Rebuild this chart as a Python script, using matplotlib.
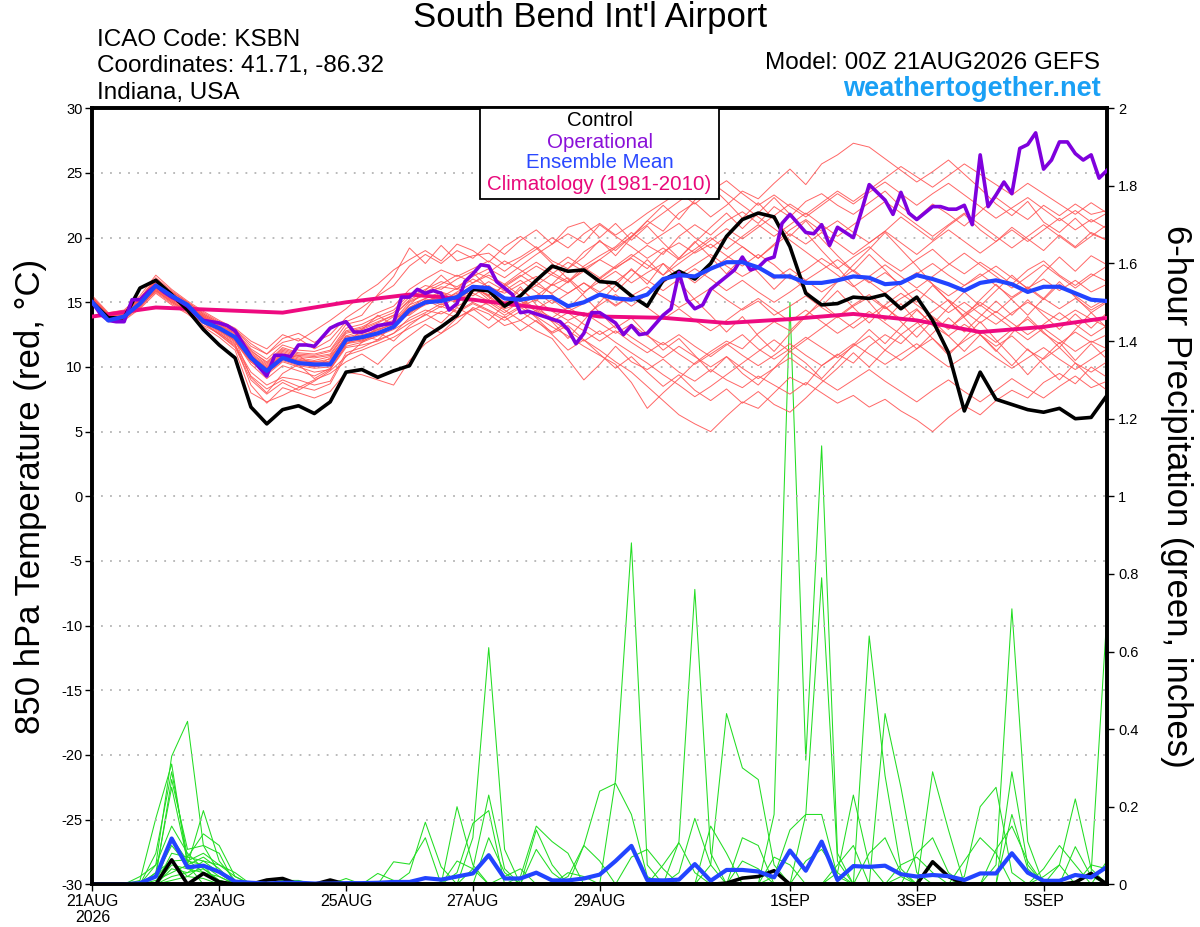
import numpy as np
import matplotlib
matplotlib.use("Agg")
import matplotlib.pyplot as plt
from matplotlib.patches import Rectangle

plt.rcParams['font.family'] = ['Liberation Sans', 'DejaVu Sans']
plt.rcParams['axes.unicode_minus'] = False

# ---------------- DATA ----------------
hours6 = np.arange(0, 385, 6)      # ensemble / control steps
hours3 = np.arange(0, 385, 3)      # operational steps
clim_hours = np.arange(0, 385, 24)

tick_hours = [0, 48, 96, 144, 192, 264, 312, 360]
tick_labels = ["21AUG\n2026", "23AUG", "25AUG", "27AUG", "29AUG", "1SEP", "3SEP", "5SEP"]

control_t = [15.0, 13.8, 13.8, 16.1, 16.7, 15.6, 14.4, 12.9,
             11.7, 10.7, 6.9, 5.6, 6.7, 7.0, 6.4, 7.3,
             9.6, 9.8, 9.2, 9.7, 10.1, 12.3, 13.1, 14.0,
             16.0, 15.9, 14.7, 15.5, 16.7, 17.8, 17.4, 17.5,
             16.6, 16.5, 15.5, 14.7, 16.7, 17.4, 16.8, 18.0,
             20.1, 21.4, 21.9, 21.6, 19.3, 15.7, 14.8, 14.9,
             15.4, 15.3, 15.6, 14.5, 15.4, 13.6, 11.1, 6.6,
             9.6, 7.5, 7.1, 6.7, 6.5, 6.8, 6.0, 6.1,
             7.8]

mean_t = [15.0, 13.6, 13.9, 14.9, 16.3, 15.5, 14.8, 13.5,
          13.0, 12.3, 10.7, 9.7, 10.7, 10.3, 10.2, 10.2,
          12.1, 12.3, 12.6, 13.1, 14.4, 15.0, 15.1, 15.4,
          16.2, 16.1, 15.3, 15.2, 15.4, 15.4, 14.7, 15.0,
          15.6, 15.3, 15.2, 15.6, 16.8, 17.1, 17.0, 17.6,
          18.1, 18.1, 17.7, 17.0, 17.0, 16.5, 16.5, 16.7,
          17.0, 16.9, 16.4, 16.5, 17.1, 16.8, 16.4, 15.9,
          16.5, 16.7, 16.4, 15.8, 16.2, 16.2, 15.7, 15.2,
          15.1]

oper_t = [15.0, 14.1, 13.6, 13.5, 13.5, 15.2, 15.2, 15.8,
          16.3, 15.8, 15.4, 15.1, 14.7, 14.1, 13.6, 13.5,
          13.4, 13.2, 12.8, 11.8, 10.8, 10.0, 9.3, 10.9,
          10.9, 10.8, 11.7, 11.7, 11.6, 12.3, 13.0, 13.3,
          13.5, 12.7, 12.7, 12.9, 13.2, 13.3, 13.4, 15.4,
          15.4, 16.0, 15.7, 15.9, 15.7, 14.4, 14.9, 16.6,
          17.2, 17.9, 17.8, 16.6, 16.1, 15.6, 14.2, 14.3,
          14.1, 13.9, 13.7, 13.5, 12.9, 11.8, 12.6, 14.2,
          14.2, 13.8, 13.4, 12.5, 13.2, 12.5, 12.6, 13.3,
          14.0, 14.5, 17.3, 15.2, 14.5, 14.8, 16.0, 16.5,
          17.0, 17.5, 18.5, 17.5, 17.7, 18.3, 18.5, 21.1,
          21.8, 21.1, 20.4, 20.3, 21.0, 19.4, 20.8, 20.4,
          20.0, 22.0, 24.1, 23.5, 22.9, 21.8, 23.5, 21.9,
          21.4, 21.9, 22.4, 22.4, 22.2, 22.2, 22.5, 21.0,
          26.4, 22.4, 23.3, 24.3, 23.4, 26.9, 27.2, 28.1,
          25.3, 26.0, 27.4, 27.4, 26.5, 26.0, 26.4, 24.6,
          25.2]

clim_t = [13.9, 14.6, 14.4, 14.2, 15.0, 15.6, 15.2, 14.6, 13.9,
          13.8, 13.4, 13.7, 14.1, 13.6, 12.7, 13.1, 13.8]

ens_t = [
    [15.4, 14.0, 14.3, 15.3, 16.9, 15.9, 15.0, 14.2, 13.5, 12.9, 11.6, 11.0, 11.9, 12.2, 11.4, 12.1,
     13.5, 14.0, 15.6, 17.0, 19.2, 18.0, 19.4, 18.2, 18.6, 18.8, 17.9, 18.5, 19.3, 18.2, 17.6, 18.9,
     19.7, 19.0, 20.1, 21.3, 20.5, 21.9, 22.7, 21.6, 22.5, 23.6, 23.0, 24.2, 25.3, 24.1, 25.7, 26.4,
     27.3, 27.0, 26.1, 25.2, 24.3, 25.1, 26.0, 24.9, 23.8, 22.6, 21.7, 22.8, 21.2, 20.4, 21.5, 20.3, 19.8],
    [15.0, 13.6, 13.7, 14.6, 15.9, 15.0, 14.3, 13.2, 12.6, 11.8, 8.6, 7.2, 8.4, 8.0, 7.6, 8.1,
     9.6, 9.4, 9.0, 8.6, 10.5, 11.8, 12.6, 13.4, 14.6, 14.1, 13.2, 13.6, 12.8, 12.2, 10.6, 9.0,
     10.2, 11.6, 10.4, 9.8, 10.6, 9.6, 8.9, 9.8, 9.0, 8.4, 9.3, 8.6, 7.9, 8.8, 8.0, 7.2,
     7.8, 6.9, 7.5, 6.6, 5.9, 5.0, 6.1, 7.0, 6.3, 7.4, 8.2, 7.6, 8.8, 9.5, 8.7, 10.0, 9.2],
    [15.1, 13.8, 13.9, 14.8, 16.0, 15.2, 14.5, 13.6, 12.9, 12.0, 10.2, 9.1, 10.1, 9.7, 9.3, 9.9,
     11.6, 11.9, 12.4, 12.9, 13.6, 14.2, 14.9, 14.3, 15.0, 14.4, 13.8, 14.6, 13.9, 13.1, 12.4, 11.6,
     10.9, 10.2, 8.8, 6.8, 8.0, 9.1, 10.3, 11.2, 12.0, 11.4, 12.6, 13.5, 12.8, 14.0, 14.9, 13.9,
     14.8, 15.6, 14.6, 13.7, 14.5, 13.2, 12.4, 13.3, 12.5, 11.6, 12.4, 11.3, 10.6, 11.5, 10.3, 9.6, 10.4],
    [15.3, 14.1, 14.2, 15.1, 16.4, 15.6, 14.7, 13.9, 13.1, 12.2, 10.9, 9.9, 11.0, 10.6, 10.4, 10.3,
     12.0, 12.4, 12.1, 13.3, 14.1, 15.2, 14.6, 15.5, 16.3, 15.4, 14.5, 14.9, 13.8, 12.6, 13.2, 12.1,
     11.3, 10.4, 9.6, 8.5, 7.4, 6.3, 5.6, 5.0, 6.2, 7.3, 6.8, 8.0, 9.2, 8.6, 10.1, 11.0,
     10.3, 11.6, 12.5, 11.8, 13.0, 13.8, 12.9, 14.1, 15.0, 14.2, 15.3, 16.1, 15.2, 16.4, 15.5, 14.6, 15.3],
    [15.2, 13.9, 14.1, 15.2, 16.6, 15.7, 14.8, 14.0, 13.3, 12.6, 11.2, 10.4, 11.5, 11.1, 11.0, 11.3,
     13.0, 13.3, 13.9, 14.4, 15.6, 16.3, 16.0, 16.8, 17.4, 16.9, 16.2, 17.0, 17.8, 17.1, 16.5, 17.6,
     18.3, 17.6, 18.5, 19.4, 18.7, 20.1, 21.0, 20.2, 21.3, 22.0, 21.1, 22.4, 21.6, 22.8, 23.4, 22.5,
     21.8, 22.7, 23.6, 22.4, 21.5, 22.6, 21.8, 20.9, 22.0, 23.1, 22.2, 21.4, 22.5, 21.7, 22.6, 21.8, 22.1],
    [15.1, 13.7, 14.0, 14.9, 16.2, 15.3, 14.5, 13.6, 12.8, 12.1, 10.6, 9.7, 10.9, 10.4, 10.0, 10.5,
     12.2, 12.5, 12.8, 13.4, 14.6, 15.1, 15.5, 15.2, 16.1, 15.8, 15.0, 15.6, 16.3, 15.7, 16.6, 17.4,
     16.8, 17.7, 18.4, 17.6, 18.9, 19.6, 18.8, 19.5, 18.6, 17.8, 18.7, 17.9, 16.8, 17.5, 18.4, 17.6,
     18.5, 19.3, 18.2, 17.4, 18.3, 19.1, 18.0, 17.2, 18.1, 17.3, 16.4, 17.5, 18.2, 17.1, 16.3, 17.2, 16.6],
    [15.2, 13.8, 13.9, 15.0, 16.3, 15.4, 14.6, 13.7, 13.0, 12.4, 10.8, 9.9, 10.8, 10.4, 10.3, 10.1,
     11.9, 12.1, 12.6, 13.0, 14.2, 14.8, 15.2, 15.7, 16.0, 15.6, 15.9, 15.1, 14.5, 15.2, 14.3, 14.9,
     15.6, 14.8, 15.5, 16.2, 15.4, 14.6, 15.3, 16.1, 15.2, 14.4, 15.1, 14.0, 14.7, 15.5, 14.6, 13.8,
     14.7, 15.4, 14.5, 15.3, 16.0, 15.1, 14.2, 15.0, 14.1, 13.3, 14.2, 15.0, 14.3, 13.6, 14.4, 13.7, 13.1],
    [15.3, 14.0, 14.1, 15.1, 16.5, 15.6, 14.8, 13.9, 13.2, 12.5, 11.0, 10.1, 11.2, 10.8, 10.7, 10.9,
     12.6, 12.9, 13.4, 14.0, 15.1, 15.6, 15.0, 15.8, 16.5, 17.1, 16.4, 17.3, 18.1, 17.3, 16.6, 17.8,
     18.6, 19.3, 20.4, 19.5, 20.3, 21.1, 20.0, 19.2, 20.1, 19.3, 18.4, 19.5, 20.6, 21.4, 20.5, 21.3,
     20.4, 19.6, 20.5, 21.6, 20.7, 19.8, 20.9, 21.8, 20.6, 19.7, 20.8, 19.9, 19.0, 20.2, 19.3, 20.4, 19.8],
    [15.0, 13.7, 13.8, 14.7, 16.0, 15.1, 14.4, 13.5, 12.7, 11.9, 10.4, 9.4, 10.4, 10.0, 9.6, 9.8,
     11.5, 11.7, 12.0, 12.6, 13.8, 14.4, 14.1, 14.7, 15.3, 14.8, 14.0, 14.7, 15.2, 14.3, 13.6, 14.2,
     13.4, 12.6, 13.3, 12.4, 11.7, 12.5, 11.6, 10.8, 11.7, 12.5, 11.4, 10.6, 11.4, 12.3, 11.5, 10.7,
     11.6, 12.4, 11.3, 10.5, 11.4, 12.2, 11.1, 12.0, 12.8, 11.9, 12.9, 13.7, 12.6, 11.8, 12.7, 11.9, 12.5],
    [15.2, 13.9, 14.0, 15.0, 16.4, 15.5, 14.7, 13.8, 13.0, 12.3, 10.7, 9.8, 10.9, 10.5, 10.4, 10.6,
     12.4, 12.8, 13.2, 13.6, 15.0, 15.6, 16.2, 16.0, 16.8, 16.2, 15.7, 16.4, 17.0, 16.3, 16.9, 15.8,
     16.6, 17.4, 16.5, 17.3, 18.0, 17.1, 17.9, 18.7, 17.8, 17.0, 17.7, 16.8, 17.6, 16.7, 17.5, 18.3,
     17.4, 16.5, 17.3, 16.4, 17.2, 18.0, 17.1, 16.3, 17.0, 17.8, 16.9, 16.1, 16.8, 15.9, 16.7, 15.8, 16.4],
    [15.4, 14.1, 14.3, 15.3, 16.7, 15.8, 15.0, 14.1, 13.4, 12.8, 11.4, 10.6, 11.7, 11.3, 11.2, 11.6,
     13.3, 13.6, 14.2, 14.7, 16.0, 16.8, 17.5, 17.0, 17.6, 18.2, 17.4, 18.3, 19.1, 20.0, 19.2, 20.3,
     21.1, 20.2, 21.0, 21.9, 22.7, 23.5, 22.6, 23.6, 24.4, 23.4, 22.5, 23.3, 22.4, 21.6, 22.5, 23.4,
     22.6, 23.5, 24.3, 23.4, 22.5, 23.4, 24.2, 23.3, 22.4, 21.5, 22.3, 23.1, 22.2, 21.3, 22.1, 21.2, 21.9],
    [15.0, 13.6, 13.8, 14.7, 15.8, 14.9, 14.2, 13.4, 12.5, 11.6, 9.3, 8.3, 9.0, 8.5, 8.2, 8.7,
     10.9, 11.3, 11.8, 12.3, 13.0, 13.6, 14.3, 13.8, 14.4, 15.0, 14.2, 15.1, 14.3, 13.5, 14.2, 13.3,
     12.5, 13.2, 12.3, 11.5, 10.7, 11.6, 10.8, 10.0, 10.8, 9.9, 9.1, 9.9, 10.7, 9.8, 9.0, 8.2,
     9.0, 9.8, 8.9, 8.1, 7.3, 8.2, 9.0, 8.1, 7.3, 8.2, 9.1, 8.3, 7.6, 8.5, 9.3, 8.4, 8.9],
    [15.1, 13.8, 14.0, 15.0, 16.2, 15.3, 14.5, 13.7, 12.9, 12.2, 10.6, 9.6, 10.6, 10.2, 10.1, 10.3,
     12.0, 12.3, 12.9, 13.3, 14.5, 15.0, 15.4, 16.1, 15.5, 16.3, 15.4, 14.8, 15.5, 16.4, 15.7, 16.5,
     15.8, 16.6, 17.5, 16.7, 15.9, 16.8, 17.6, 16.8, 15.9, 16.7, 15.8, 15.0, 15.8, 16.7, 15.8, 16.6,
     17.5, 16.6, 15.7, 16.5, 17.3, 16.4, 15.5, 16.3, 17.2, 16.3, 15.4, 16.2, 15.3, 14.5, 15.3, 14.4, 15.1],
    [15.2, 13.9, 14.1, 15.1, 16.5, 15.6, 14.7, 13.8, 13.1, 12.4, 10.9, 10.0, 11.1, 10.7, 10.5, 10.8,
     12.3, 12.6, 13.0, 13.5, 14.8, 15.3, 14.8, 15.6, 16.2, 15.5, 14.6, 15.3, 14.5, 13.8, 14.6, 13.9,
     14.8, 15.6, 14.7, 15.6, 16.5, 17.4, 16.5, 17.5, 18.4, 19.3, 18.4, 19.4, 20.3, 19.5, 20.4, 19.6,
     18.7, 19.6, 20.5, 19.6, 18.7, 19.7, 20.6, 19.7, 18.8, 19.7, 20.6, 19.7, 20.6, 21.5, 20.6, 21.4, 20.7],
    [15.1, 13.7, 13.9, 14.9, 16.1, 15.2, 14.5, 13.6, 12.8, 12.0, 10.4, 9.5, 10.5, 10.1, 9.9, 10.0,
     11.8, 12.0, 12.5, 13.1, 14.3, 14.9, 15.6, 15.1, 15.8, 16.6, 15.9, 16.7, 15.8, 14.9, 15.7, 16.5,
     15.6, 14.7, 15.5, 14.6, 13.7, 14.5, 13.6, 12.8, 13.6, 14.5, 15.3, 14.4, 13.5, 14.4, 13.5, 12.6,
     13.4, 14.3, 13.4, 12.5, 13.4, 14.3, 15.2, 14.3, 13.4, 14.3, 13.4, 12.5, 13.3, 14.2, 13.3, 12.4, 13.2],
    [15.3, 14.0, 14.2, 15.2, 16.6, 15.7, 14.9, 14.0, 13.3, 12.7, 11.3, 10.3, 11.4, 11.0, 10.9, 11.2,
     12.8, 13.1, 13.7, 14.2, 15.4, 16.0, 16.6, 16.2, 17.0, 17.6, 16.9, 17.8, 18.7, 19.5, 20.3, 19.6,
     21.0, 20.1, 19.3, 18.4, 19.2, 18.3, 19.1, 20.0, 19.1, 20.1, 21.0, 20.1, 21.0, 21.9, 21.0, 20.1,
     21.0, 21.9, 22.8, 21.9, 21.0, 20.1, 21.0, 21.9, 21.0, 20.1, 19.2, 20.1, 21.0, 20.1, 19.2, 20.1, 21.0],
    [15.0, 13.6, 13.8, 14.6, 15.9, 15.0, 14.3, 13.4, 12.6, 11.7, 9.6, 8.6, 9.2, 9.0, 8.6, 8.9,
     11.1, 11.5, 12.1, 12.6, 13.4, 14.0, 14.7, 14.2, 14.9, 14.3, 13.6, 14.3, 13.5, 12.7, 13.5, 12.8,
     12.0, 12.8, 11.9, 11.1, 11.9, 11.0, 10.2, 11.0, 11.8, 10.9, 10.1, 10.9, 11.8, 10.9, 10.1, 10.9,
     11.8, 11.0, 10.2, 11.0, 11.8, 10.9, 10.0, 10.8, 11.6, 10.7, 9.9, 10.7, 11.5, 10.6, 9.8, 10.6, 11.4],
    [15.2, 13.8, 14.1, 15.0, 16.4, 15.5, 14.6, 13.8, 13.0, 12.3, 10.8, 9.9, 10.9, 10.5, 10.4, 10.4,
     12.1, 12.4, 12.9, 13.3, 14.6, 15.3, 15.8, 15.4, 16.2, 15.5, 16.3, 17.1, 16.3, 17.2, 18.1, 17.4,
     18.3, 19.2, 20.1, 21.0, 21.9, 22.8, 23.7, 24.3, 23.4, 22.5, 21.6, 20.7, 19.8, 18.9, 18.0, 17.1,
     16.2, 17.0, 17.9, 17.0, 16.1, 17.0, 17.9, 18.8, 17.9, 17.0, 16.1, 17.0, 17.9, 17.0, 16.1, 17.0, 17.8],
    [15.3, 14.1, 14.2, 15.2, 16.6, 15.7, 14.8, 13.9, 13.2, 12.6, 11.1, 10.2, 11.3, 10.9, 10.8, 11.0,
     12.7, 13.0, 13.5, 14.0, 15.2, 15.8, 16.4, 17.1, 16.5, 17.3, 18.2, 17.5, 16.7, 17.6, 18.5, 17.7,
     16.9, 17.8, 18.7, 17.9, 17.1, 18.0, 18.9, 19.8, 20.7, 19.9, 20.8, 21.7, 22.6, 21.8, 22.7, 23.6,
     22.8, 23.7, 24.6, 25.5, 24.7, 23.9, 24.8, 25.7, 24.9, 24.1, 23.3, 24.2, 23.4, 22.6, 21.8, 22.7, 21.9],
    [15.1, 13.7, 13.9, 14.8, 16.1, 15.3, 14.5, 13.6, 12.8, 12.1, 10.5, 9.5, 10.6, 10.2, 10.0, 10.2,
     11.8, 12.2, 12.7, 13.2, 14.3, 14.9, 15.3, 15.0, 15.7, 15.1, 14.4, 13.6, 14.4, 13.6, 12.8, 12.0,
     12.8, 11.9, 11.1, 10.3, 9.4, 8.6, 7.7, 8.5, 9.4, 10.3, 11.2, 12.1, 11.2, 12.1, 13.0, 13.9,
     13.0, 13.9, 14.8, 15.7, 14.8, 13.9, 13.0, 13.9, 14.8, 13.9, 13.0, 12.1, 13.0, 12.1, 11.2, 12.0, 11.4],
    [15.5, 14.2, 14.4, 15.5, 17.1, 16.0, 15.1, 14.3, 13.6, 13.0, 12.0, 11.4, 12.5, 12.0, 12.8, 13.6,
     14.5, 15.6, 16.4, 17.5, 18.3, 19.0, 18.2, 19.5, 19.0, 18.1, 19.3, 20.1, 19.2, 18.0, 16.8, 15.5,
     14.2, 13.0, 13.8, 12.5, 11.3, 12.2, 10.9, 9.6, 10.8, 9.5, 8.6, 9.9, 11.2, 10.3, 9.1, 10.4,
     11.7, 12.9, 11.8, 13.1, 14.4, 13.3, 14.6, 15.8, 14.7, 15.9, 17.1, 16.0, 17.3, 18.5, 17.4, 18.6, 17.9],
    [14.9, 13.5, 13.6, 14.5, 15.7, 14.8, 14.1, 13.1, 12.3, 11.3, 8.0, 7.3, 7.8, 8.4, 9.0, 9.5,
     10.4, 11.0, 10.2, 11.5, 12.4, 13.3, 12.6, 13.8, 14.5, 13.6, 14.8, 16.0, 15.1, 16.4, 17.6, 18.5,
     19.8, 18.6, 20.0, 21.3, 22.5, 21.4, 22.9, 24.0, 22.8, 21.5, 22.7, 21.4, 20.1, 21.3, 19.9, 18.6,
     17.4, 18.7, 17.5, 16.2, 15.0, 16.3, 15.1, 13.9, 15.2, 16.4, 15.2, 14.0, 15.3, 16.6, 15.4, 14.2, 15.0],
    [15.2, 13.9, 14.0, 15.1, 16.5, 15.5, 14.7, 13.9, 13.0, 12.1, 9.2, 8.0, 9.5, 10.2, 9.1, 9.8,
     11.7, 12.9, 14.0, 13.2, 14.8, 15.9, 17.1, 16.0, 17.3, 16.1, 14.9, 16.2, 14.8, 13.5, 12.2, 13.6,
     15.0, 16.3, 17.6, 16.4, 18.0, 16.6, 15.2, 14.0, 12.7, 13.9, 12.4, 11.2, 12.6, 13.9, 15.2, 16.6,
     17.9, 19.1, 20.4, 19.1, 17.8, 16.4, 15.1, 13.8, 12.5, 11.2, 12.6, 13.9, 12.7, 11.5, 12.9, 14.2, 13.0],
    [15.3, 14.0, 14.2, 15.3, 16.8, 15.8, 15.0, 14.1, 13.4, 12.9, 11.8, 11.0, 12.2, 12.6, 11.9, 12.5,
     13.8, 14.6, 15.5, 16.3, 17.8, 18.7, 18.0, 19.0, 18.4, 19.5, 18.7, 19.8, 20.6, 19.5, 20.8, 21.2,
     20.0, 21.1, 19.8, 20.9, 19.6, 18.4, 19.7, 18.5, 17.2, 18.5, 17.3, 16.0, 17.2, 15.9, 14.7, 15.9,
     14.6, 13.4, 14.7, 13.5, 12.3, 13.6, 12.4, 11.2, 12.5, 11.3, 10.1, 11.4, 10.2, 9.0, 10.3, 9.1, 8.2],
    [15.0, 13.7, 13.7, 14.7, 15.9, 15.1, 14.3, 13.4, 12.5, 11.5, 9.0, 7.9, 8.8, 8.2, 8.9, 9.7,
     10.8, 11.9, 12.7, 12.0, 13.2, 14.1, 13.4, 14.6, 13.9, 13.0, 13.9, 12.8, 13.6, 12.5, 11.3, 12.1,
     11.0, 9.9, 10.8, 9.6, 8.5, 9.4, 8.2, 7.4, 8.3, 7.2, 8.1, 7.1, 6.5, 7.6, 8.8, 9.9,
     11.1, 10.0, 11.3, 12.5, 11.4, 12.6, 13.8, 12.7, 13.9, 15.1, 14.0, 15.2, 14.0, 12.9, 14.1, 13.0, 14.2],
    [15.1, 13.8, 13.9, 14.9, 16.2, 15.4, 14.6, 13.7, 12.9, 12.2, 10.6, 9.8, 10.6, 10.9, 10.0, 10.7,
     12.4, 12.0, 13.1, 13.9, 14.0, 14.9, 15.8, 15.0, 16.2, 15.2, 16.4, 15.5, 16.6, 15.6, 14.5, 15.7,
     16.9, 15.8, 17.0, 18.3, 17.1, 18.4, 19.6, 20.8, 21.9, 20.7, 21.9, 23.1, 21.8, 20.4, 19.0, 17.7,
     16.3, 15.0, 13.6, 14.9, 13.5, 12.2, 10.9, 12.2, 13.5, 12.1, 10.8, 9.4, 10.7, 11.9, 10.5, 11.8, 10.6],
]

mean_p = [0, 0, 0, 0.003, 0.02, 0.118, 0.044, 0.048,
          0.032, 0.007, 0.004, 0.002, 0.004, 0.004, 0.002, 0.002,
          0.003, 0.003, 0.004, 0.006, 0.006, 0.016, 0.012, 0.02,
          0.028, 0.075, 0.015, 0.015, 0.03, 0.01, 0.01, 0.015,
          0.025, 0.06, 0.099, 0.011, 0.01, 0.012, 0.052, 0.009,
          0.037, 0.037, 0.033, 0.018, 0.087, 0.035, 0.11, 0.011,
          0.047, 0.045, 0.048, 0.026, 0.02, 0.024, 0.021, 0.011,
          0.028, 0.028, 0.08, 0.03, 0.009, 0.009, 0.024, 0.018,
          0.045]

control_p = [0, 0, 0, 0, 0, 0.063, 0, 0.028,
             0.006, 0, 0, 0.011, 0.015, 0, 0, 0.011,
             0, 0, 0, 0, 0, 0, 0, 0,
             0, 0, 0, 0, 0, 0, 0, 0,
             0, 0, 0, 0, 0, 0, 0, 0,
             0.003, 0.016, 0.02, 0.035, 0, 0, 0, 0,
             0, 0, 0, 0, 0, 0.058, 0.02, 0,
             0, 0, 0, 0, 0, 0, 0.005, 0.028,
             0]

ens_p = [
    [0, 0, 0, .02, .05, .33, .42, .10, .03, 0, 0, 0, 0, 0, 0, 0,
     0, 0, 0, 0, 0, 0, 0, 0, .12, .61, .09, 0, 0, 0, 0, 0,
     0, 0, 0, 0, 0, 0, 0, 0, 0, 0, 0, .18, 1.50, .32, 1.13, .08,
     0, 0, 0, 0, 0, 0, 0, 0, 0, 0, .29, .05, 0, 0, 0, 0, 0],
    [0, 0, 0, .01, .17, .31, .05, .19, .06, .01, 0, 0, 0, 0, 0, 0,
     0, 0, 0, 0, 0, 0, 0, 0, 0, 0, 0, 0, 0, 0, 0, 0,
     0, .27, .88, .05, 0, 0, 0, 0, 0, 0, 0, 0, 0, 0, 0, 0,
     0, .64, .28, .04, 0, 0, 0, 0, 0, 0, 0, 0, 0, 0, 0, 0, 0],
    [0, 0, 0, 0, .08, .29, .07, .13, .10, .02, 0, 0, 0, 0, 0, 0,
     0, 0, 0, 0, 0, 0, 0, .20, .05, 0, 0, 0, 0, 0, 0, 0,
     0, 0, 0, 0, 0, .11, .76, .08, 0, 0, 0, 0, 0, 0, 0, 0,
     0, 0, 0, 0, 0, 0, 0, 0, 0, .05, .71, .11, 0, 0, 0, 0, 0],
    [0, 0, 0, 0, .02, .27, .09, .10, .08, 0, 0, 0, 0, 0, 0, 0,
     0, 0, 0, 0, .03, .16, .045, 0, 0, 0, 0, 0, 0, 0, 0, 0,
     0, 0, 0, 0, 0, 0, 0, 0, 0, 0, 0, 0, 0, .18, .79, .06,
     0, 0, 0, 0, 0, 0, 0, 0, 0, 0, 0, 0, 0, 0, 0, .03, .70],
    [0, 0, 0, 0, .03, .25, .06, .08, .05, .02, 0, 0, 0, 0, 0, 0,
     0, 0, 0, 0, 0, 0, 0, 0, 0, 0, 0, .02, .15, .11, .08, 0,
     0, 0, 0, 0, 0, 0, 0, .05, .44, .30, .27, .05, 0, 0, 0, 0,
     0, 0, 0, .02, 0, .29, .14, 0, 0, 0, 0, 0, 0, 0, 0, 0, 0],
    [0, 0, 0, 0, .05, .15, .08, .04, .01, 0, 0, 0, 0, 0, 0, 0,
     0, 0, 0, 0, 0, 0, 0, 0, 0, 0, 0, 0, 0, 0, .02, .10,
     .24, .26, .18, .02, 0, 0, 0, 0, 0, 0, 0, 0, 0, 0, 0, 0,
     0, 0, .44, .25, .03, 0, 0, 0, 0, 0, 0, 0, 0, .05, .22, .04, 0],
    [0, 0, 0, 0, 0, .12, .06, .05, .02, 0, 0, 0, 0, 0, 0, 0,
     0, 0, 0, .058, .052, .12, 0, 0, 0, 0, 0, 0, 0, 0, 0, 0,
     0, 0, 0, 0, 0, .03, .17, .05, 0, 0, 0, 0, 0, 0, 0, 0,
     0, 0, 0, 0, 0, 0, 0, .02, .20, .25, .03, 0, 0, 0, 0, 0, 0],
    [0, 0, 0, 0, .02, .10, .05, .07, .04, 0, 0, 0, 0, 0, 0, 0,
     0, 0, 0, 0, 0, 0, 0, 0, .04, .23, .04, 0, 0, 0, 0, 0,
     0, 0, 0, 0, 0, 0, 0, 0, 0, 0, 0, .02, .14, .18, .18, .02,
     0, 0, 0, 0, 0, 0, 0, 0, 0, 0, 0, 0, 0, 0, .097, .02, 0],
    [0, 0, 0, 0, 0, .08, .07, .06, .03, 0, 0, 0, 0, 0, 0, 0,
     0, 0, 0, 0, 0, 0, 0, .03, .157, .19, 0, 0, 0, 0, 0, 0,
     0, 0, 0, 0, 0, 0, 0, 0, 0, .12, .10, 0, 0, 0, 0, .03,
     .23, .05, 0, 0, 0, 0, 0, 0, 0, 0, 0, 0, 0, 0, 0, 0, .06],
    [0, 0, 0, 0, .02, .06, .063, .03, 0, 0, 0, 0, 0, 0, 0, 0,
     0, 0, 0, 0, 0, 0, 0, 0, 0, 0, 0, 0, .14, .05, 0, 0,
     0, 0, 0, 0, .05, .107, .03, 0, 0, 0, 0, 0, 0, 0, 0, 0,
     0, 0, 0, 0, 0, 0, 0, .06, .12, .08, 0, 0, 0, 0, 0, 0, 0],
    [0, 0, 0, 0, 0, .05, .04, .03, .02, 0, 0, 0, 0, 0, 0, 0,
     .015, 0, .028, .01, 0, 0, 0, 0, 0, .12, .03, 0, 0, 0, 0, 0,
     0, 0, 0, 0, 0, 0, 0, 0, 0, 0, 0, 0, 0, 0, 0, .05,
     .10, 0, 0, 0, 0, 0, 0, 0, 0, 0, 0, 0, .04, .10, .05, 0, 0],
    [0, 0, 0, 0, 0, .04, .03, .06, .05, .03, 0, 0, 0, 0, 0, 0,
     0, 0, 0, 0, 0, 0, 0, 0, 0, 0, 0, 0, 0, 0, 0, .10,
     .06, 0, 0, 0, 0, 0, 0, .15, .08, 0, 0, 0, 0, 0, 0, 0,
     0, 0, 0, 0, .08, .12, .03, 0, 0, 0, 0, 0, 0, 0, 0, 0, 0],
    [0, 0, 0, 0, .01, .03, .05, 0, 0, 0, 0, 0, .01, .01, 0, 0,
     0, 0, 0, 0, 0, 0, 0, 0, 0, 0, 0, 0, .09, .03, 0, 0,
     0, 0, 0, 0, 0, 0, 0, 0, 0, 0, 0, .07, .05, 0, 0, 0,
     0, 0, 0, 0, 0, 0, 0, 0, 0, .09, .15, .06, 0, 0, 0, 0, 0],
    [0, 0, 0, 0, 0, .02, .03, .04, .01, 0, 0, 0, 0, 0, 0, 0,
     0, 0, 0, 0, 0, 0, 0, 0, 0, 0, 0, 0, 0, 0, .03, .02,
     0, 0, .07, .09, .04, 0, 0, 0, 0, 0, 0, 0, 0, 0, 0, 0,
     0, 0, 0, .05, .07, .03, 0, 0, 0, 0, 0, 0, 0, 0, 0, .05, .04],
    [0, 0, 0, 0, 0, .01, .02, .015, 0, 0, 0, 0, 0, 0, 0, 0,
     0, 0, 0, 0, 0, 0, 0, .06, .04, 0, 0, 0, 0, 0, 0, 0,
     0, 0, 0, 0, 0, 0, 0, 0, 0, 0, 0, 0, 0, .06, .09, .03,
     0, 0, 0, 0, 0, 0, 0, 0, 0, 0, .18, .04, 0, 0, 0, 0, 0],
    [0, 0, 0, 0, .03, .06, .02, .05, 0, 0, 0, 0, 0, 0, 0, 0,
     0, 0, 0, 0, 0, 0, 0, 0, 0, 0, .02, .04, 0, 0, 0, 0,
     0, 0, 0, 0, 0, 0, 0, 0, 0, .06, .04, 0, 0, 0, 0, 0,
     0, .08, .12, .03, 0, 0, 0, 0, 0, 0, 0, 0, .02, .05, 0, 0, 0],
]

temp_ticks = list(range(-30, 31, 5))
precip_ticks = [0, 0.2, 0.4, 0.6, 0.8, 1.0, 1.2, 1.4, 1.6, 1.8, 2.0]
precip_labels = ["0", "0.2", "0.4", "0.6", "0.8", "1", "1.2", "1.4", "1.6", "1.8", "2"]

# ---------------- FIGURE ----------------
W, H = 1200, 927
fig = plt.figure(figsize=(W / 100, H / 100), dpi=100)
L, R, T, B = 92.4, 1107, 108.3, 884.3
ax = fig.add_axes([L / W, 1 - B / H, (R - L) / W, (B - T) / H])
ax2 = ax.twinx()
ax.set_zorder(ax2.get_zorder() + 1)
ax.patch.set_visible(False)

# precipitation (right axis)
for m in ens_p:
    ax2.plot(hours6, m, color='#22dd22', lw=0.75, zorder=2)
ax2.plot(hours6, mean_p, color='#2244ff', lw=3.0, zorder=4)
ax2.plot(hours6, control_p, color='black', lw=2.6, zorder=3)
ax2.set_ylim(0, 2)
ax2.set_yticks(precip_ticks)
ax2.set_yticklabels(precip_labels)

# temperature (left axis)
for v in range(-25, 30, 5):
    ax.axhline(v, color='#b4b4b4', lw=1.3, ls=(0, (1, 4)), zorder=0)
for m in ens_t:
    ax.plot(hours6, m, color='#ff5555', lw=0.7, alpha=0.9, zorder=1)
ax.plot(clim_hours, clim_t, color='#ee0a80', lw=2.8, zorder=3)
ax.plot(hours6, control_t, color='black', lw=2.6, zorder=4)
ax.plot(hours3, oper_t, color='#7f00dd', lw=2.6, zorder=5)
ax.plot(hours6, mean_t, color='#2244ff', lw=3.0, zorder=6)

ax.set_xlim(0, 384)
ax.set_ylim(-30, 30)
ax.set_yticks(temp_ticks)
ax.set_xticks(tick_hours)
ax.set_xticklabels(tick_labels, fontsize=11.5, linespacing=1.05)
ax.tick_params(axis='y', labelsize=10.5, length=5, width=1, direction='out', pad=2)
ax.tick_params(axis='x', length=5, width=1, direction='out', pad=2)
ax2.tick_params(axis='y', labelsize=10.5, length=5, width=1, direction='out', pad=3)

for a in (ax, ax2):
    for s in a.spines.values():
        s.set_linewidth(2.6)
        s.set_color('black')

ax.set_ylabel("850 hPa Temperature (red, °C)", fontsize=25, va='center')
ax.yaxis.set_label_coords((31 - L) / (R - L), 0.5)
ax2.set_ylabel("6-hour Precipitation (green, inches)", fontsize=25, rotation=270, va='center')
ax2.yaxis.set_label_coords((1176 - L) / (R - L), 0.5)

# legend box
lx0, lx1, ly0, ly1 = 480, 719, 108.3, 199
fig.patches.append(Rectangle((lx0 / W, 1 - ly1 / H), (lx1 - lx0) / W, (ly1 - ly0) / H,
                             transform=fig.transFigure, facecolor='white', edgecolor='black',
                             lw=1.3, zorder=20))
for txt, col, yy in [("Control", 'black', 121), ("Operational", '#8a10d8', 142),
                     ("Ensemble Mean", '#2a48ff', 163), ("Climatology (1981-2010)", '#e8087a', 185)]:
    fig.text(599.5 / W, 1 - yy / H, txt, color=col, fontsize=14.8, ha='center', va='center', zorder=21)

# header
fig.text(590 / W, 1 - 18 / H, "South Bend Int'l Airport", fontsize=25, ha='center', va='center')
fig.text(97 / W, 1 - 40 / H, "ICAO Code: KSBN", fontsize=17.5, ha='left', va='center')
fig.text(97 / W, 1 - 66 / H, "Coordinates: 41.71, -86.32", fontsize=17.5, ha='left', va='center')
fig.text(97 / W, 1 - 93 / H, "Indiana, USA", fontsize=17.5, ha='left', va='center')
fig.text(1100 / W, 1 - 63 / H, "Model: 00Z 21AUG2026 GEFS", fontsize=17.5, ha='right', va='center')
fig.text(1101 / W, 1 - 89 / H, "weathertogether.net", fontsize=19.5, ha='right', va='center',
         color='#1aa0f5', fontweight='bold')

fig.savefig("out.png", dpi=100)
